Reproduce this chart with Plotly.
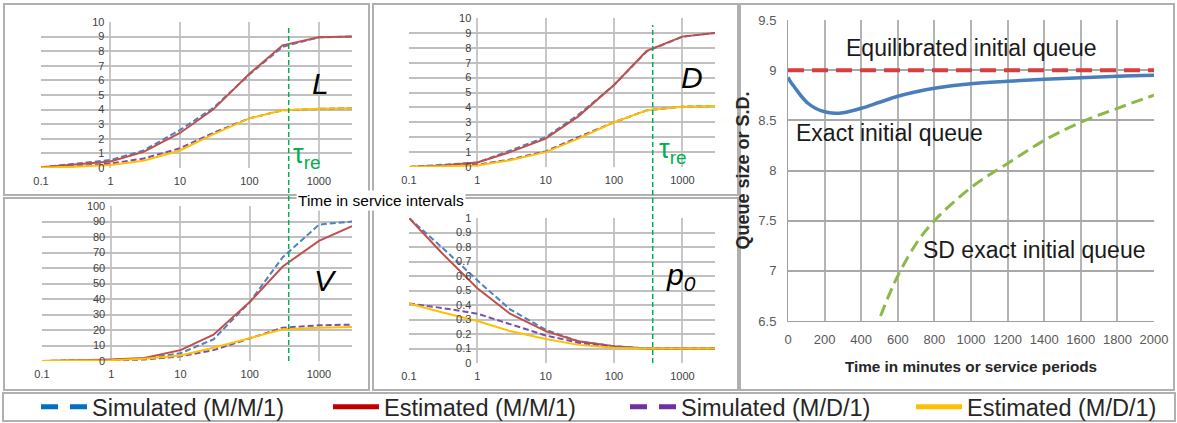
import math
import plotly.graph_objects as go

W, H = 1177, 423

# ---------------- data ----------------
t_log = [0.1, 0.3, 1, 3, 10, 30, 100, 300, 1000, 3000]
x_ticks = [0.1, 1, 10, 100, 1000]
x_ticktext = ["0.1", "1", "10", "100", "1000"]
tau_re = 368

L_sim_mm1 = [0.05, 0.3, 0.55, 1.2, 2.6, 4.1, 6.4, 8.3, 8.95, 9.0]
L_est_mm1 = [0.05, 0.25, 0.45, 1.1, 2.4, 4.0, 6.45, 8.4, 8.95, 9.0]
L_sim_md1 = [0.03, 0.12, 0.3, 0.65, 1.35, 2.4, 3.4, 3.95, 4.05, 4.1]
L_est_md1 = [0.03, 0.08, 0.2, 0.5, 1.2, 2.3, 3.4, 3.95, 4.05, 4.1]

D_sim_mm1 = [0.0, 0.12, 0.3, 1.1, 2.0, 3.5, 5.5, 7.75, 8.75, 9.0]
D_est_mm1 = [0.0, 0.1, 0.3, 1.0, 1.9, 3.4, 5.5, 7.8, 8.75, 9.0]
D_sim_md1 = [0.0, 0.05, 0.15, 0.5, 1.05, 2.0, 3.0, 3.8, 4.05, 4.1]
D_est_md1 = [0.0, 0.04, 0.1, 0.45, 1.0, 1.9, 3.0, 3.8, 4.05, 4.1]

V_sim_mm1 = [0.0, 0.3, 0.8, 1.5, 5.0, 14.0, 38.0, 67.0, 88.0, 90.0]
V_est_mm1 = [0.0, 0.4, 1.0, 2.0, 7.0, 17.0, 38.0, 61.0, 77.5, 87.0]
V_sim_md1 = [0.0, 0.1, 0.3, 1.0, 3.0, 7.0, 14.5, 21.5, 23.0, 23.5]
V_est_md1 = [0.0, 0.2, 0.5, 1.5, 3.5, 8.5, 15.0, 20.5, 21.5, 22.0]

P_sim_mm1 = [1.0, 0.80, 0.57, 0.37, 0.23, 0.15, 0.115, 0.10, 0.10, 0.10]
P_est_mm1 = [1.0, 0.76, 0.515, 0.34, 0.22, 0.15, 0.115, 0.10, 0.10, 0.10]
P_sim_md1 = [0.41, 0.38, 0.34, 0.27, 0.19, 0.14, 0.11, 0.10, 0.10, 0.10]
P_est_md1 = [0.41, 0.35, 0.29, 0.22, 0.165, 0.125, 0.105, 0.10, 0.10, 0.10]

t_min = [0, 15, 36, 73, 109, 150, 200, 255, 300, 400, 500, 600, 700, 800,
         1000, 1200, 1400, 1600, 1800, 2000]
exact_queue = [8.93, 8.88, 8.83, 8.74, 8.67, 8.62, 8.585, 8.57, 8.575, 8.62,
               8.68, 8.74, 8.785, 8.82, 8.865, 8.89, 8.91, 8.925, 8.94, 8.95]
equil_t = [0, 2000]
equil_queue = [9.0, 9.0]
sd_t = [470, 550, 600, 700, 800, 1000, 1200, 1400, 1600, 1800, 2000]
sd_queue = [6.38, 6.75, 6.95, 7.27, 7.5, 7.83, 8.07, 8.3, 8.48, 8.62, 8.75]

series_names = ["Simulated (M/M/1)", "Estimated (M/M/1)",
                "Simulated (M/D/1)", "Estimated (M/D/1)"]

# ---------------- styles ----------------
line_colors = ["#4F81BD", "#C0504D", "#7B4FA8", "#FFC000"]
legend_colors = ["#0070C0", "#C00000", "#7030A0", "#FFC000"]
plot_dashes = ["6px,3px", "solid", "6px,3px", "solid"]
legend_dashes = ["17px,12px", "solid", "17px,12px", "solid"]
legend_text_px = [94, 386, 683, 969]
GREEN = "#00B050"
FONT = "Liberation Sans, Arial, sans-serif"
NARROW = "Liberation Sans Narrow, Arial Narrow, Liberation Sans, Arial, sans-serif"


def px_x(p):
    return p / W


def px_y(p):
    return 1 - p / H


doms = {
    1: ([px_x(41), px_x(352)], [px_y(168), px_y(22)]),
    2: ([px_x(409), px_x(715)], [px_y(167), px_y(18)]),
    3: ([px_x(42), px_x(352)], [px_y(361), px_y(206)]),
    4: ([px_x(409), px_x(715)], [px_y(363), px_y(218)]),
    5: ([px_x(788), px_x(1154)], [px_y(321), px_y(20)]),
}
log_range = [-1, math.log10(3000)]

fig = go.Figure()

panels = [
    (1, [L_sim_mm1, L_est_mm1, L_sim_md1, L_est_md1], [0, 10], 1),
    (2, [D_sim_mm1, D_est_mm1, D_sim_md1, D_est_md1], [0, 10], 1),
    (3, [V_sim_mm1, V_est_mm1, V_sim_md1, V_est_md1], [0, 100], 10),
    (4, [P_sim_mm1, P_est_mm1, P_sim_md1, P_est_md1], [0, 1], 0.1),
]

for k, data, yr, dt in panels:
    xs = "x" if k == 1 else f"x{k}"
    ys = "y" if k == 1 else f"y{k}"
    for i, vals in enumerate(data):
        fig.add_trace(go.Scatter(
            x=t_log, y=vals, mode="lines", xaxis=xs, yaxis=ys,
            line=dict(color=line_colors[i], width=2, dash=plot_dashes[i]),
            showlegend=False, name=series_names[i]))
    xd, yd = doms[k]
    # y axis crosses at t = 1
    ypos = xd[0] + (0 - log_range[0]) / (log_range[1] - log_range[0]) * (xd[1] - xd[0])
    fig.update_layout(**{
        ("xaxis" if k == 1 else f"xaxis{k}"): dict(
            type="log", domain=xd, range=log_range, anchor=ys,
            tickvals=x_ticks, ticktext=x_ticktext, showgrid=True,
            gridcolor="#c8c8c8", gridwidth=1.5, zeroline=False, showline=False,
            ticks="", ticklabelstandoff=5, automargin=False,
            tickfont=dict(family=FONT, size=11, color="#404040")),
        ("yaxis" if k == 1 else f"yaxis{k}"): dict(
            domain=yd, range=yr, anchor="free", position=ypos,
            dtick=dt, tick0=0, showgrid=True, gridcolor="#c0c0c0",
            gridwidth=1.5, zeroline=False, showline=False, ticks="",
            ticklabelstandoff=6, automargin=False,
            tickfont=dict(family=FONT, size=11, color="#404040")),
    })

# right panel
fig.add_trace(go.Scatter(x=equil_t, y=equil_queue, mode="lines", xaxis="x5", yaxis="y5",
                         line=dict(color="#D43F3F", width=4, dash="16px,8px"), showlegend=False,
                         name="Equilibrated initial queue"))
fig.add_trace(go.Scatter(x=t_min, y=exact_queue, mode="lines", xaxis="x5", yaxis="y5",
                         line=dict(color="#4A7EBB", width=3.5, shape="spline"), showlegend=False,
                         name="Exact initial queue"))
fig.add_trace(go.Scatter(x=sd_t, y=sd_queue, mode="lines", xaxis="x5", yaxis="y5",
                         line=dict(color="#8DB849", width=3, dash="12px,6px", shape="spline"),
                         showlegend=False, name="SD exact initial queue"))

fig.update_layout(
    xaxis5=dict(domain=doms[5][0], range=[0, 2000], anchor="y5", dtick=200, tick0=0,
                tickformat="d", showgrid=True, gridcolor="#b4b4b4", gridwidth=1.5,
                zeroline=False, showline=True, linecolor="#a0a0a0", ticks="",
                ticklabelstandoff=6, automargin=False,
                tickfont=dict(family=FONT, size=13, color="#595959"),
                title=dict(text="<b>Time in minutes or service periods</b>", standoff=15,
                           font=dict(family=NARROW, size=15.3, color="#262626"))),
    yaxis5=dict(domain=doms[5][1], range=[6.5, 9.5], anchor="x5", dtick=0.5, tick0=6.5,
                showgrid=True, gridcolor="#a8a8a8", gridwidth=1.5, zeroline=False,
                showline=True, linecolor="#a0a0a0", ticks="", ticklabelstandoff=8,
                automargin=False,
                tickfont=dict(family=FONT, size=13, color="#595959"),
                title=dict(text="<b>Queue size or S.D.</b>", standoff=4,
                           font=dict(family=FONT, size=18, color="#262626"))),
)

# legend-only entries, one legend per entry
legend_layouts = {}
for i in range(4):
    lname = "legend" if i == 0 else f"legend{i + 1}"
    fig.add_trace(go.Scatter(x=[None], y=[None], mode="lines", name=series_names[i],
                             line=dict(color=legend_colors[i], width=5, dash=legend_dashes[i]),
                             showlegend=True, legend=lname))
    legend_layouts[lname] = dict(
        orientation="h", x=px_x(legend_text_px[i] - 58), xanchor="left",
        y=px_y(407), yanchor="middle", itemwidth=46, bgcolor="rgba(0,0,0,0)",
        font=dict(family=FONT, size=23.5, color="#262626"))

shapes = []
# panel frames
for (x0, y0, x1, y1) in [(4, 4, 369, 195), (373, 4, 738, 195), (4, 198, 369, 390),
                         (373, 198, 738, 390), (740, 4, 1174, 390), (3, 393, 1175, 421)]:
    shapes.append(dict(type="rect", xref="paper", yref="paper",
                       x0=px_x(x0), x1=px_x(x1), y0=px_y(y1), y1=px_y(y0),
                       line=dict(color="#b0b0b0", width=2), layer="below"))
# tau_re vertical lines
shapes.append(dict(type="line", xref="x", yref="paper", x0=tau_re, x1=tau_re,
                   y0=px_y(361), y1=px_y(27), line=dict(color=GREEN, width=1.5, dash="5px,3px")))
shapes.append(dict(type="line", xref="x2", yref="paper", x0=tau_re, x1=tau_re,
                   y0=px_y(363), y1=px_y(25), line=dict(color=GREEN, width=1.5, dash="5px,3px")))

C = dict(xanchor="center", yanchor="middle", showarrow=False)
annotations = [
    dict(text="<i>L</i>", xref="x domain", yref="y domain", x=0.90, y=0.58,
         font=dict(family=FONT, size=30, color="black"), **C),
    dict(text="<i>D</i>", xref="x2 domain", yref="y2 domain", x=0.925, y=0.60,
         font=dict(family=FONT, size=30, color="black"), **C),
    dict(text="<i>V</i>", xref="x3 domain", yref="y3 domain", x=0.915, y=0.52,
         font=dict(family=FONT, size=30, color="black"), **C),
    dict(text="<i>p<sub>0</sub></i>", xref="x4 domain", yref="y4 domain", x=0.89, y=0.60,
         font=dict(family=FONT, size=30, color="black"), **C),
    dict(text="τ<sub>re</sub>", xref="x domain", yref="y domain", x=0.805, y=0.08,
         xanchor="left", yanchor="middle", showarrow=False,
         font=dict(family=FONT, size=27, color=GREEN)),
    dict(text="τ<sub>re</sub>", xref="x2 domain", yref="y2 domain", x=0.81, y=0.11,
         xanchor="left", yanchor="middle", showarrow=False,
         font=dict(family=FONT, size=27, color=GREEN)),
    dict(text="Time in service intervals", xref="paper", yref="paper",
         x=px_x(381), y=px_y(200), bgcolor="white",
         font=dict(family=FONT, size=15.5, color="black"), **C),
    dict(text="Equilibrated initial queue", xref="x5", yref="y5", x=1005, y=9.22,
         font=dict(family=FONT, size=23, color="#1a1a1a"), **C),
    dict(text="Exact initial queue", xref="x5", yref="y5", x=557, y=8.37,
         font=dict(family=FONT, size=23, color="#1a1a1a"), **C),
    dict(text="SD exact initial queue", xref="x5", yref="y5", x=1344, y=7.21,
         font=dict(family=FONT, size=23, color="#1a1a1a"), **C),
]

fig.update_layout(
    width=W, height=H, margin=dict(l=0, r=0, t=0, b=0, autoexpand=False),
    paper_bgcolor="white", plot_bgcolor="white",
    shapes=shapes, annotations=annotations,
    **legend_layouts,
)

fig.write_html("out.html", config={"displayModeBar": False},
               post_script="document.body.style.margin='0';document.body.style.overflow='hidden';")
